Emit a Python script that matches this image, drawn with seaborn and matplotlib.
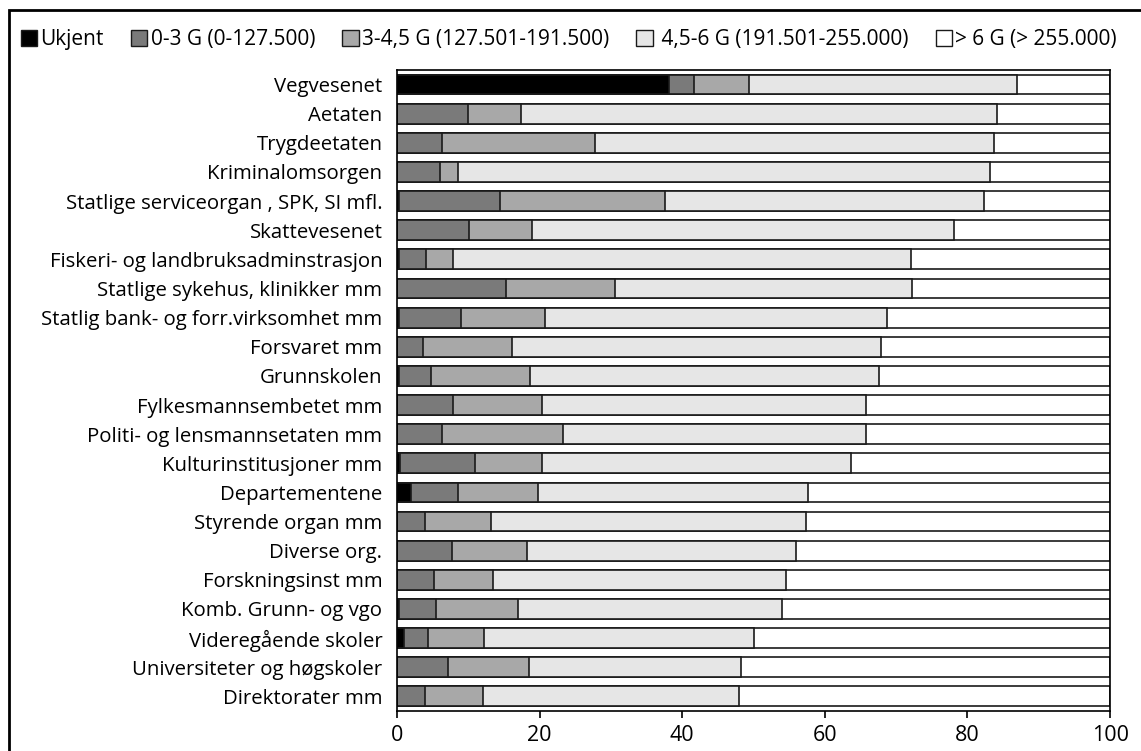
import numpy as np
import pandas as pd
import matplotlib
matplotlib.use('Agg')
import matplotlib.pyplot as plt
import seaborn as sns
from matplotlib.patches import Patch, Rectangle

# data (percent of employees per wage band)
orgs = ['Vegvesenet', 'Aetaten', 'Trygdeetaten', 'Kriminalomsorgen',
        'Statlige serviceorgan , SPK, SI mfl.', 'Skattevesenet',
        'Fiskeri- og landbruksadminstrasjon', 'Statlige sykehus, klinikker mm',
        'Statlig bank- og forr.virksomhet mm', 'Forsvaret mm', 'Grunnskolen',
        'Fylkesmannsembetet mm', 'Politi- og lensmannsetaten mm',
        'Kulturinstitusjoner mm', 'Departementene', 'Styrende organ mm',
        'Diverse org.', 'Forskningsinst mm', 'Komb. Grunn- og vgo',
        'Videregående skoler', 'Universiteter og høgskoler', 'Direktorater mm']
ukjent = [38.1, 0, 0, 0, 0.3, 0, 0.3, 0, 0.3, 0, 0.3, 0, 0, 0.4, 2.0, 0, 0, 0, 0.3, 1.0, 0, 0]
g0_3 = [3.6, 9.9, 6.3, 6.0, 14.1, 10.1, 3.7, 15.3, 8.6, 3.6, 4.4, 7.9, 6.3, 10.6, 6.5, 3.9, 7.7, 5.2, 5.2, 3.4, 7.1, 3.9]
g3_45 = [7.6, 7.5, 21.5, 2.5, 23.2, 8.8, 3.9, 15.3, 11.8, 12.5, 14.0, 12.4, 17.0, 9.3, 11.2, 9.3, 10.5, 8.3, 11.4, 7.8, 11.4, 8.2]
g45_6 = [37.6, 66.7, 55.9, 74.6, 44.7, 59.2, 64.2, 41.6, 48.0, 51.8, 48.9, 45.5, 42.5, 43.3, 38.0, 44.2, 37.8, 41.0, 37.1, 37.8, 29.7, 35.8]
g6 = [13.1, 15.9, 16.3, 16.9, 17.7, 21.9, 27.9, 27.8, 31.3, 32.1, 32.4, 34.2, 34.2, 36.4, 42.3, 42.6, 44.0, 45.5, 46.0, 50.0, 51.8, 52.1]
bands = ['Ukjent', '0-3 G (0-127.500)', '3-4,5 G (127.501-191.500)',
         ' 4,5-6 G (191.501-255.000)', '> 6 G (> 255.000)']
colors = ['#000000', '#7a7a7a', '#a8a8a8', '#e6e6e6', '#ffffff']

sns.set_style('white')
plt.rcParams['font.family'] = ['Open Sans', 'DejaVu Sans']
plt.rcParams['text.color'] = 'black'
plt.rcParams['xtick.color'] = 'black'
plt.rcParams['ytick.color'] = 'black'

# cumulative ends for the stacked bars
shares = np.array([ukjent, g0_3, g3_45, g45_6, g6])
cum = np.cumsum(shares, axis=0)
df = pd.DataFrame(cum.T, columns=bands)
df['org'] = orgs

fig = plt.figure(figsize=(11.41, 7.51), dpi=100)
ax = fig.add_axes([0.348, 0.0533, 0.6249, 0.8535])

# draw from the longest cumulative bar down so each segment overlaps the previous
for band, col in reversed(list(zip(bands, colors))):
    sns.barplot(data=df, x=band, y='org', orient='h', order=orgs, color=col,
                edgecolor='#1a1a1a', linewidth=1.2, width=0.68, saturation=1, ax=ax)

ax.set_xlim(0, 100)
ax.set_xticks([0, 20, 40, 60, 80, 100])
ax.set_xlabel('')
ax.set_ylabel('')
ax.tick_params(axis='x', bottom=True, length=5, width=1.2, color='black', labelsize=15.5, pad=5)
ax.tick_params(axis='y', left=False, labelsize=14.7, pad=7)
for s in ax.spines.values():
    s.set_visible(True)
    s.set_color('black')
    s.set_linewidth(1.2)

handles = [Patch(facecolor=c, edgecolor='#1a1a1a', linewidth=1) for c in colors]
fig.legend(handles, bands, loc='center left', bbox_to_anchor=(0.018, 0.947), ncol=5,
           frameon=False, fontsize=15, handlelength=0.8, handleheight=0.8,
           handletextpad=0.15, columnspacing=1.3, borderaxespad=0, borderpad=0)

# outer frame
fig.patches.append(Rectangle((0.0075, -0.01), 1.0, 0.997, transform=fig.transFigure,
                             fill=False, edgecolor='black', linewidth=2))

fig.savefig('out.png', dpi=100)
